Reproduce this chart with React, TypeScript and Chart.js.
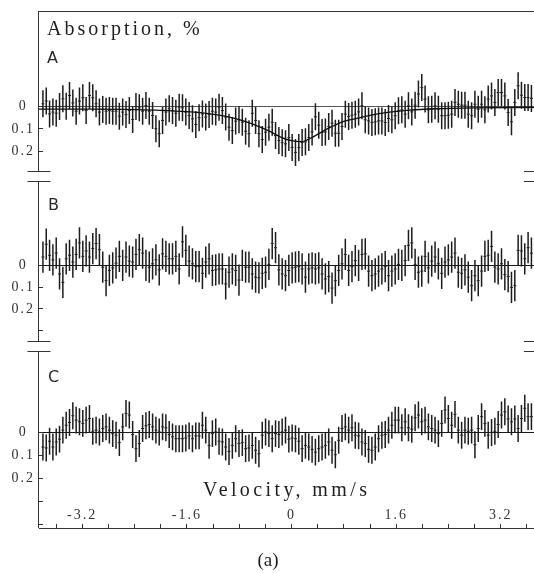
import React, { useEffect, useRef } from 'react';
import { Chart, registerables } from 'chart.js';

Chart.register(...registerables);

// Velocity channels of the folded spectrum (mm/s)
const V_START = -3.8;
const V_STEP = 0.0508;
const V_MIN = -3.86;
const V_MAX = 3.73;

// Absorption (%) per channel, positive = absorption (plotted downward)
const ABS_A = [
  -0.012, -0.024, 0.033, 0.025, 0.030, 0.000, -0.034, -0.001, -0.049, -0.016,
  0.021, -0.024, -0.039, 0.018, -0.049, -0.039, -0.012, 0.025, 0.013, 0.021,
  0.018, 0.021, 0.021, 0.043, 0.025, 0.036, 0.018, 0.058, 0.000, 0.006,
  0.021, -0.004, 0.021, 0.040, 0.099, 0.121, 0.062, 0.025, 0.010, 0.018,
  0.030, 0.003, 0.006, 0.025, 0.040, 0.055, 0.080, 0.050, 0.033, 0.047,
  0.036, 0.021, 0.025, 0.003, 0.018, 0.047, 0.092, 0.107, 0.065, 0.059,
  0.070, 0.110, 0.121, 0.030, 0.062, 0.121, 0.147, 0.114, 0.092, 0.070,
  0.129, 0.151, 0.161, 0.166,
  0.138, 0.182, 0.204, 0.182, 0.160, 0.157, 0.138, 0.113, 0.046, 0.083,
  0.116, 0.113, 0.089, 0.074, 0.119, 0.119, 0.089, 0.034, 0.044, 0.039,
  0.034, 0.024, -0.003, 0.059, 0.064, 0.071, 0.068, 0.064, 0.064, 0.071,
  0.053, 0.059, 0.041, 0.019, 0.015, 0.034, -0.003, 0.024, -0.006, -0.055,
  -0.084, -0.033, 0.015, 0.012, -0.003, 0.012, 0.041, 0.041, 0.039, 0.034,
  -0.018, -0.010, -0.006, -0.006, 0.034, 0.041, -0.010, 0.012, -0.010, 0.015,
  -0.033, -0.047, -0.018, -0.062, -0.062, -0.047, 0.027, 0.068, -0.018, -0.092,
  -0.050, -0.040, -0.040, -0.036,
];

const ABS_B = [
  -0.039, -0.098, -0.047, -0.026, -0.057, 0.039, 0.078, -0.031, -0.047, -0.016,
  -0.051, -0.104, -0.042, -0.067, -0.039, -0.078, -0.101, -0.073, 0.008, 0.070,
  0.023, 0.011, -0.011, -0.042, 0.000, -0.039, -0.020, -0.016, -0.051, -0.073,
  -0.057, 0.000, 0.008, -0.008, -0.026, 0.020, -0.054, -0.042, -0.031, -0.031,
  -0.042, 0.016, -0.109, -0.070, -0.020, -0.008, 0.005, 0.005, 0.036, -0.016,
  -0.031, 0.023, 0.020, 0.016, 0.016, 0.085, 0.031, 0.016, 0.023, 0.067,
  0.000, 0.008, 0.008, 0.039, 0.054, 0.057, 0.036, 0.031, -0.005, -0.101,
  -0.082, 0.020, 0.039, 0.047,
  0.023, 0.011, 0.008, 0.005, 0.016, 0.054, 0.016, 0.011, 0.016, 0.011,
  0.039, 0.062, 0.051, 0.104, 0.070, 0.023, -0.008, -0.051, 0.023, 0.005,
  -0.023, 0.000, -0.051, -0.054, 0.026, 0.047, 0.039, 0.026, 0.016, 0.005,
  0.047, 0.026, 0.016, -0.005, 0.000, -0.023, -0.093, -0.104, -0.005, 0.031,
  0.026, -0.042, 0.011, -0.020, -0.039, -0.008, 0.036, -0.016, -0.026, -0.039,
  -0.057, 0.031, 0.036, 0.020, 0.054, 0.093, 0.047, 0.070, 0.026, -0.042,
  -0.047, -0.088, 0.008, 0.016, -0.008, 0.042, 0.051, 0.101, 0.093, -0.070,
  -0.067, -0.031, -0.082, -0.057,
];

const ABS_C = [
  0.064, 0.068, 0.039, 0.064, 0.042, 0.030, -0.009, -0.030, -0.042, -0.071,
  -0.052, -0.045, -0.038, -0.052, -0.059, -0.004, -0.009, -0.001, -0.016, -0.023,
  -0.009, 0.006, 0.013, 0.045, -0.023, -0.081, -0.074, 0.010, 0.071, 0.049,
  -0.016, -0.028, -0.033, -0.023, -0.009, -0.001, -0.023, -0.019, 0.010, 0.020,
  0.028, 0.028, 0.028, 0.025, 0.016, 0.028, 0.016, 0.016, -0.030, -0.009,
  0.057, 0.006, -0.001, 0.039, 0.042, 0.064, 0.083, 0.057, 0.028, 0.049,
  0.045, 0.071, 0.068, 0.057, 0.078, 0.093, 0.013, -0.001, 0.006, 0.028,
  0.006, 0.010, -0.001, -0.009,
  0.030, 0.025, 0.028, 0.039, 0.071, 0.057, 0.064, 0.074, 0.086, 0.071,
  0.064, 0.057, 0.042, 0.078, 0.097, 0.035, -0.016, -0.023, -0.009, -0.019,
  0.013, 0.016, 0.042, 0.049, 0.074, 0.078, 0.064, 0.028, 0.013, 0.010,
  -0.009, -0.030, -0.052, -0.052, -0.019, -0.045, -0.019, -0.013, -0.062, -0.074,
  -0.045, -0.052, -0.023, -0.016, -0.009, 0.006, -0.038, -0.096, -0.059, -0.030,
  -0.077, -0.009, 0.013, -0.009, -0.004, -0.009, 0.054, -0.016, -0.067, -0.038,
  0.013, 0.001, -0.004, -0.033, -0.074, -0.088, -0.057, -0.045, -0.057, -0.016,
  -0.059, -0.103, -0.067, -0.067,
];

// Statistical error (half-length of each bar), per spectrum
const ERR_A = 0.06;
const ERR_B = 0.072;
const ERR_C = 0.058;

// Fitted absorption envelope for spectrum A
const FIT_V = [-3.86, -3.0, -2.4, -2.0, -1.6, -1.3, -1.0, -0.8, -0.6, -0.45, -0.3, -0.15, 0.0, 0.15, 0.3, 0.45, 0.6, 0.8, 1.0, 1.2, 1.5, 1.8, 2.2, 2.8, 3.73];
const FIT_A = [0.012, 0.012, 0.014, 0.017, 0.023, 0.031, 0.044, 0.058, 0.077, 0.095, 0.115, 0.138, 0.152, 0.156, 0.140, 0.115, 0.092, 0.066, 0.053, 0.039, 0.025, 0.016, 0.010, 0.006, 0.004];

// Axis ticks and labels
const X_TICKS = [-3.6, -3.2, -2.8, -2.4, -2.0, -1.6, -1.2, -0.8, -0.4, 0, 0.4, 0.8, 1.2, 1.6, 2.0, 2.4, 2.8, 3.2, 3.6];
const X_LABELED = [-3.2, -1.6, 0, 1.6, 3.2];
const Y_TICKS_A = [0, 0.1, 0.2];
const Y_TICKS_B = [0, 0.1, 0.2, 0.3];
const Y_TICKS_C = [0, 0.1, 0.2, 0.3, 0.4];
const Y_LABELED = [0, 0.1, 0.2];

const Y_TITLE = 'Absorption, %';
const X_TITLE = 'Velocity, mm/s';
const PANEL_NAMES = ['A', 'B', 'C'];
const CAPTION = '(a)';

const SERIF = '"Liberation Serif", "Times New Roman", serif';

const PANELS = [
  { id: 'yA', name: PANEL_NAMES[0], values: ABS_A, err: ERR_A, ticks: Y_TICKS_A, min: -0.42, max: 0.3116, h: 164.6, w: 3, zero: '#555' },
  { id: 'yB', name: PANEL_NAMES[1], values: ABS_B, err: ERR_B, ticks: Y_TICKS_B, min: -0.4097, max: 0.377, h: 170.7, w: 2, zero: '#1a1a1a' },
  { id: 'yC', name: PANEL_NAMES[2], values: ABS_C, err: ERR_C, ticks: Y_TICKS_C, min: -0.366, max: 0.413, h: 180.7, w: 1, zero: '#1a1a1a' },
];

// Frame pieces, axis breaks and annotations
const decorPlugin = {
  id: 'decor',
  beforeDraw(chart: any) {
    chart.ctx.letterSpacing = '2px';
  },
  afterDraw(chart: any) {
    const ctx = chart.ctx;
    const ca = chart.chartArea;
    const sA = chart.scales.yA;
    const sB = chart.scales.yB;
    const sC = chart.scales.yC;
    const gap = 5;
    const half = 11.5;
    const px = (v: number) => Math.round(v) - 0.5;
    ctx.save();
    ctx.letterSpacing = '0px';
    ctx.strokeStyle = '#333';
    ctx.lineWidth = 1;
    ctx.beginPath();
    ctx.moveTo(ca.left - 1, px(ca.top));
    ctx.lineTo(ca.right, px(ca.top));
    const xL = px(ca.left);
    const pieces = [
      [ca.top, px(sA.bottom - gap)],
      [px(sB.top + gap), px(sB.bottom - gap)],
      [px(sC.top + gap), ca.bottom],
    ];
    for (const [t, b] of pieces) {
      ctx.moveTo(xL, t);
      ctx.lineTo(xL, b);
    }
    const breaks = [sA.bottom - gap, sB.top + gap, sB.bottom - gap, sC.top + gap];
    for (const y of breaks) {
      const yy = px(y);
      ctx.moveTo(ca.left - half, yy);
      ctx.lineTo(ca.left + half, yy);
      ctx.moveTo(ca.right - half, yy);
      ctx.lineTo(ca.right + half, yy);
    }
    ctx.stroke();

    ctx.fillStyle = '#1e1e1e';
    ctx.textAlign = 'left';
    ctx.textBaseline = 'alphabetic';
    ctx.font = `20px ${SERIF}`;
    ctx.letterSpacing = '3px';
    ctx.fillText(Y_TITLE, ca.left + 8, ca.top + 23);

    ctx.letterSpacing = '0px';
    ctx.font = '16px "DejaVu Sans", sans-serif';
    ctx.fillStyle = '#2a2a2a';
    ctx.fillText(PANELS[0].name, ca.left + 8, sA.top + 51);
    ctx.fillText(PANELS[1].name, ca.left + 9, sB.top + 33.5);
    ctx.fillText(PANELS[2].name, ca.left + 9, sC.top + 34.5);

    ctx.fillStyle = '#1e1e1e';
    ctx.font = `20px ${SERIF}`;
    ctx.letterSpacing = '3.4px';
    ctx.fillText(X_TITLE, ca.left + 164, ca.bottom - 32);

    ctx.letterSpacing = '0px';
    ctx.font = `19px ${SERIF}`;
    ctx.textAlign = 'center';
    ctx.fillText(CAPTION, 268, 566);
    ctx.restore();
  },
};

export default function App() {
  const ref = useRef<HTMLCanvasElement>(null);

  useEffect(() => {
    const canvas = ref.current;
    if (!canvas) return;
    const vel = ABS_A.map((_, i) => +(V_START + i * V_STEP).toFixed(4));

    const datasets: any[] = [
      {
        type: 'line',
        label: 'fit A',
        xAxisID: 'x',
        yAxisID: 'yA',
        data: FIT_V.map((v, i) => ({ x: v, y: FIT_A[i] })),
        borderColor: '#111',
        borderWidth: 1.3,
        pointRadius: 0,
        fill: false,
        cubicInterpolationMode: 'monotone',
        order: 0,
      },
    ];
    for (const p of PANELS) {
      datasets.push({
        type: 'scatter',
        label: p.name,
        xAxisID: 'x',
        yAxisID: p.id,
        data: p.values.map((y, i) => ({ x: vel[i], y })),
        pointStyle: 'line',
        pointRadius: 1.5,
        borderColor: '#222',
        backgroundColor: '#222',
        borderWidth: 1,
        showLine: false,
        order: 1,
      });
      datasets.push({
        type: 'bar',
        label: p.name + ' err',
        xAxisID: 'x',
        yAxisID: p.id,
        data: p.values.map((y, i) => ({ x: vel[i], y: [y - p.err, y + p.err] })),
        backgroundColor: '#1c1c1c',
        borderWidth: 0,
        barThickness: 1.5,
        inflateAmount: 0,
        grouped: false,
        order: 2,
      });
    }

    const scales: any = {
      x: {
        type: 'linear',
        position: 'bottom',
        min: V_MIN,
        max: V_MAX,
        offset: false,
        afterBuildTicks: (s: any) => {
          s.ticks = X_TICKS.map((v) => ({ value: v }));
        },
        afterFit: (s: any) => {
          s.height = 45;
          s.paddingLeft = 0;
          s.paddingRight = 0;
        },
        grid: { display: true, offset: false, drawOnChartArea: false, drawTicks: true, tickLength: -4, tickColor: '#333', color: '#333' },
        border: { display: true, color: '#333', width: 1 },
        ticks: {
          autoSkip: false,
          maxRotation: 0,
          mirror: true,
          padding: 4.6,
          color: '#333',
          font: { family: SERIF, size: 14 },
          callback: (v: number) => (X_LABELED.includes(v) ? String(v) : ''),
        },
      },
    };
    for (const p of PANELS) {
      scales[p.id] = {
        type: 'linear',
        position: 'left',
        stack: 'panels',
        stackWeight: p.h,
        weight: p.w,
        reverse: true,
        min: p.min,
        max: p.max,
        afterBuildTicks: (s: any) => {
          s.ticks = p.ticks.map((v) => ({ value: v }));
        },
        afterFit: (s: any) => {
          s.width = 39;
          s.paddingTop = 0;
          s.paddingBottom = 0;
        },
        grid: {
          drawOnChartArea: true,
          drawTicks: true,
          tickLength: -4,
          lineWidth: 1,
          tickColor: '#333',
          color: (c: any) => (c.tick && c.tick.value === 0 ? p.zero : 'rgba(0,0,0,0)'),
        },
        border: { display: false },
        ticks: {
          crossAlign: 'center',
          padding: 11,
          color: '#333',
          font: { family: SERIF, size: 14 },
          callback: (v: number) => (Y_LABELED.includes(v) ? String(v) : ''),
        },
      };
    }

    const chart = new Chart(canvas, {
      type: 'scatter',
      data: { datasets },
      options: {
        responsive: false,
        maintainAspectRatio: false,
        devicePixelRatio: 1,
        animation: false,
        events: [],
        layout: { padding: { top: 12, right: 12.5, bottom: 0, left: 0 } },
        plugins: { legend: { display: false }, tooltip: { enabled: false } },
        scales,
      } as any,
      plugins: [decorPlugin],
    } as any);

    return () => chart.destroy();
  }, []);

  return (
    <div style={{ position: 'fixed', left: 0, top: 0, width: 534, height: 573, overflow: 'hidden', background: '#fff' }}>
      <canvas ref={ref} width={548} height={573} style={{ display: 'block', width: 548, height: 573 }} />
    </div>
  );
}
